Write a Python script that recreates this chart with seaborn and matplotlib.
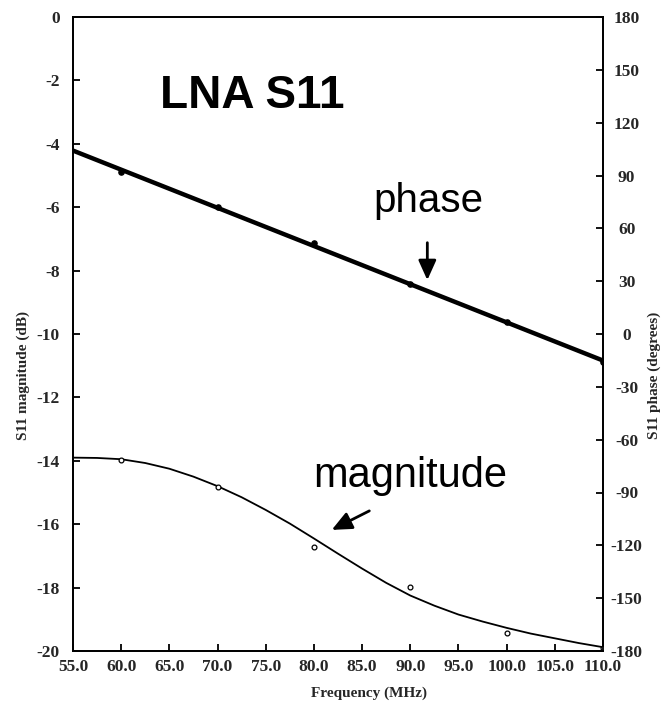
import numpy as np
import pandas as pd
import matplotlib
matplotlib.use("Agg")
import matplotlib.pyplot as plt
import seaborn as sns

# ---- data ----
freq_mhz = [60, 70, 80, 90, 100, 110]
mag_db = [-13.97, -14.83, -16.72, -17.98, -19.43, -19.90]
phase_deg = [92.2, 71.9, 51.5, 28.2, 6.6, -15.7]
# magnitude trendline, every 2.5 MHz
curve_freq = [55, 57.5, 60, 62.5, 65, 67.5, 70, 72.5, 75, 77.5, 80, 82.5,
              85, 87.5, 90, 92.5, 95, 97.5, 100, 102.5, 105, 107.5, 110]
mag_curve_db = [-13.90, -13.91, -13.95, -14.07, -14.25, -14.50, -14.80, -15.15,
                -15.55, -15.98, -16.45, -16.93, -17.40, -17.85, -18.25, -18.57,
                -18.85, -19.07, -19.27, -19.45, -19.60, -19.75, -19.88]
x_ticks = [55, 60, 65, 70, 75, 80, 85, 90, 95, 100, 105, 110]
mag_ticks = [-20, -18, -16, -14, -12, -10, -8, -6, -4, -2, 0]
phase_ticks = [-180, -150, -120, -90, -60, -30, 0, 30, 60, 90, 120, 150, 180]

df = pd.DataFrame({"freq": freq_mhz, "mag": mag_db, "phase": phase_deg})
dfc = pd.DataFrame({"freq": curve_freq, "mag": mag_curve_db})

sns.set_theme(style="ticks")
plt.rcParams["font.family"] = ["Liberation Serif", "DejaVu Serif"]

W, H = 664, 709
fig = plt.figure(figsize=(W / 100, H / 100), dpi=100)
L, R, T, B = 73, 603, 17, 651
ax = fig.add_axes([L / W, 1 - B / H, (R - L) / W, (B - T) / H])
ax.set_xlim(55, 110)
ax.set_ylim(-20, 0)
ax2 = ax.twinx()
ax2.set_ylim(-180, 180)

# magnitude: trendline + open circle markers
sns.lineplot(data=dfc, x="freq", y="mag", ax=ax, color="black", lw=1.3, zorder=2,
             legend=False)
sns.scatterplot(data=df, x="freq", y="mag", ax=ax, marker="o", s=12,
                facecolor="white", edgecolor="black", linewidth=0.9, zorder=3,
                legend=False)

# phase: thick linear trendline + small dots
sns.regplot(data=df, x="freq", y="phase", order=1, ci=None, truncate=False, ax=ax2,
            color="black",
            scatter_kws=dict(s=14, color="black", alpha=1, zorder=3),
            line_kws=dict(lw=3.2, zorder=2))

for a in (ax, ax2):
    a.set_xlim(55, 110)
ax.set_ylim(-20, 0)
ax2.set_ylim(-180, 180)

# ticks
fs = 12.5
ax.set_xticks(x_ticks, labels=[f"{v:.1f}" for v in x_ticks], fontweight="bold", fontsize=fs)
ax.set_yticks(mag_ticks, labels=[str(v) for v in mag_ticks], fontweight="bold", fontsize=fs)
ax2.set_yticks(phase_ticks, labels=[str(v) for v in phase_ticks], fontweight="bold", fontsize=fs)
ax.tick_params(axis="both", direction="in", length=5, width=1.3, color="black")
ax.tick_params(axis="x", pad=6)
ax.tick_params(axis="y", left=True, right=False, pad=9.4)
ax2.tick_params(axis="y", direction="in", length=5, width=1.3, color="black",
                right=True, left=False, pad=17)
for lbl in ax2.get_yticklabels():
    lbl.set_horizontalalignment("center")

for a in (ax, ax2):
    for sp in a.spines.values():
        sp.set_color("black")
        sp.set_linewidth(1.3)

# axis labels
lfs = 11
ax.set_xlabel("Frequency (MHz)", fontsize=lfs, fontweight="bold")
ax.xaxis.set_label_coords(0.5585, -0.066)
ax.xaxis.label.set_va("center")
ax.set_ylabel("S11 magnitude (dB)", fontsize=lfs, fontweight="bold")
ax.yaxis.set_label_coords(-0.0943, 0.435)
ax.yaxis.label.set_va("center")
ax2.set_ylabel("S11 phase (degrees)", fontsize=lfs, fontweight="bold", rotation=90)
ax2.yaxis.set_label_coords(1.096, 0.435)
ax2.yaxis.label.set_va("center")

# annotations
sans = ["Liberation Sans", "DejaVu Sans"]
ax.text(64.03, -2.87, "LNA S11", fontsize=33, fontweight="bold", family=sans,
        va="baseline", ha="left", color="black")
ax.text(86.13, -6.15, "phase", fontsize=29, family=sans, va="baseline", ha="left", color="black")
ax.text(79.9, -14.83, "magnitude", fontsize=30, family=sans, va="baseline", ha="left", color="black")

arrow = dict(arrowstyle="-|>,head_length=0.4,head_width=0.18", color="black", lw=2,
             mutation_scale=30, shrinkA=0, shrinkB=0)
ax.annotate("", xy=(91.77, -8.30), xytext=(91.77, -7.12), arrowprops=arrow)
ax.annotate("", xy=(81.85, -16.18), xytext=(85.75, -15.58), arrowprops=arrow)

fig.savefig("out.png", dpi=100)
